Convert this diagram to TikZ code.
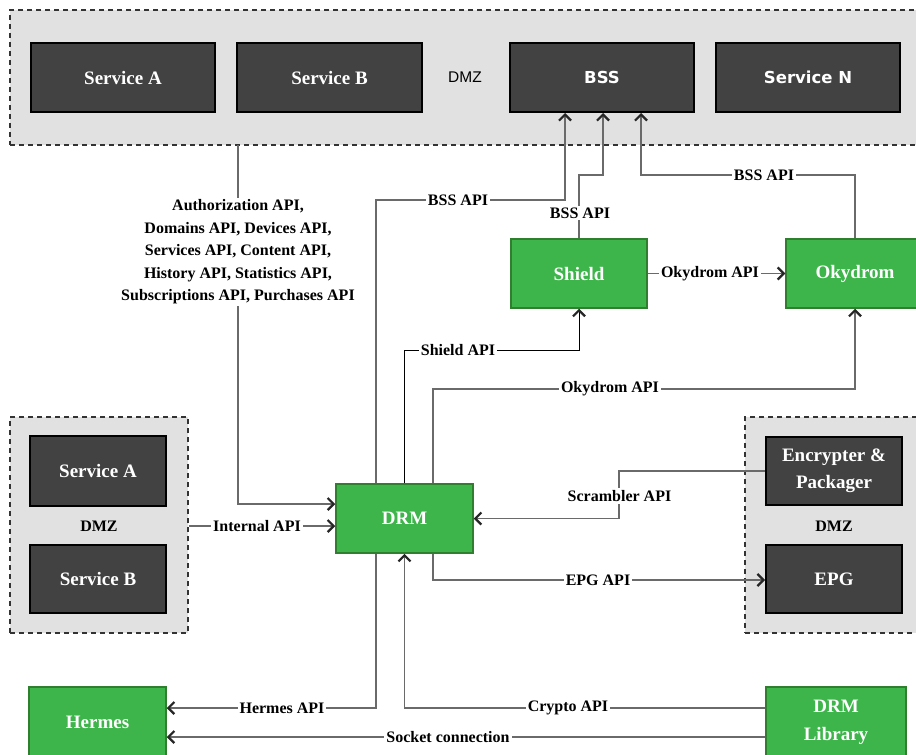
\documentclass[tikz,border=0pt]{standalone}
\usepackage{fontspec}
\setmainfont{Liberation Serif}
\newfontfamily\dvsans{DejaVu Sans}
\newfontfamily\lsans{Liberation Sans}
\usetikzlibrary{arrows.meta}
\definecolor{boxdark}{HTML}{424242}
\definecolor{contfill}{HTML}{E1E1E1}
\definecolor{grn}{HTML}{3DB54A}
\definecolor{grnb}{HTML}{2F7F2F}
\definecolor{wirec}{HTML}{6A6A6A}
\begin{document}
\begin{tikzpicture}[x=1pt,y=-1pt,
  container/.style={draw=black!80, fill=contfill, line width=1.8pt, dash pattern=on 5pt off 4pt, inner sep=0pt},
  darkbox/.style={draw=black, fill=boxdark, line width=2pt, text=white, font=\bfseries\fontsize{19}{27}\selectfont, align=center, inner sep=0pt},
  sansbox/.style={darkbox, font=\dvsans\bfseries\fontsize{16.5}{20}\selectfont},
  greenbox/.style={draw=grnb, fill=grn, line width=1.5pt, text=white, font=\bfseries\fontsize{19}{28}\selectfont, align=center, inner sep=0pt},
  lbl/.style={fill=white, inner sep=2pt, font=\bfseries\fontsize{16}{22.5}\selectfont, align=center},
  dmzlbl/.style={font=\bfseries\fontsize{16}{20}\selectfont},
  wire/.style={draw=wirec, line width=1.6pt},
  arr/.style={-{Straight Barb[length=6pt,width=12pt,line width=2.2pt,color=black!85]}},
]
\useasboundingbox (0,0) rectangle (916,755);
\clip (0,0) rectangle (916,755);
\fill[white] (0,0) rectangle (916,755);

% containers
\node[container, minimum width=920pt, minimum height=135pt] (contT) at (470,77.5) {};
\node[container, minimum width=178pt, minimum height=216pt] (contL) at (99,525) {};
\node[container, minimum width=185pt, minimum height=216pt] (contR) at (837.5,525) {};

% top boxes
\node[darkbox, minimum width=184pt, minimum height=69pt] (sA1) at (123,77.5) {Service A};
\node[darkbox, minimum width=185pt, minimum height=69pt] (sB1) at (329.5,77.5) {Service B};
\node[font=\lsans\fontsize{15.5}{18}\selectfont] (dmzT) at (465,77) {DMZ};
\node[sansbox, minimum width=184pt, minimum height=69pt] (bss) at (602,77.5) {BSS};
\node[sansbox, minimum width=184pt, minimum height=69pt] (sN) at (808,77.5) {Service N};

% green boxes
\node[greenbox, minimum width=136pt, minimum height=69pt] (shield) at (579,273.5) {Shield};
\node[greenbox, minimum width=138pt, minimum height=69pt] (oky) at (855,273.5) {Okydrom};
\node[greenbox, minimum width=137pt, minimum height=69pt] (drm) at (404.5,518.5) {DRM};
\node[greenbox, minimum width=137pt, minimum height=71pt] (hermes) at (97.5,722.5) {Hermes};
\node[greenbox, minimum width=140pt, minimum height=71pt] (lib) at (836,722.5) {DRM\\Library};

% left DMZ
\node[darkbox, minimum width=136pt, minimum height=70pt] (sA2) at (98,471) {Service A};
\node[dmzlbl] (dmzL) at (99,526) {DMZ};
\node[darkbox, minimum width=136pt, minimum height=68pt] (sB2) at (98,579) {Service B};

% right DMZ
\node[darkbox, minimum width=136pt, minimum height=68pt] (enc) at (834,471) {Encrypter \&\\Packager};
\node[dmzlbl] (dmzR) at (834,526) {DMZ};
\node[darkbox, minimum width=136pt, minimum height=68pt] (epg) at (834,579) {EPG};

% connectors
\coordinate (apiTop) at (238,145);
\draw[wire,arr] ([xshift=-28.5pt]drm.north) |- (565,200) -- ([xshift=-37pt]bss.south);
\draw[wire,arr] (shield.north) |- (603,175) -- ([xshift=1pt]bss.south);
\draw[wire,arr] (oky.north) |- (641,175) -- ([xshift=39pt]bss.south);
\draw[black, line width=1pt, arr] (drm.north) |- (579,350) -- (shield.south);
\draw[wire,arr] ([xshift=28.5pt]drm.north) |- (855,389) -- (oky.south);
\draw[wire,arr] (shield.east) -- (oky.west);
\draw[wire,arr] (apiTop) -- (238,504) -- ([yshift=14.5pt]drm.west);
\draw[wire,arr] ([yshift=-1pt]contL.east) -- ([yshift=-7.5pt]drm.west);
\draw[wire,arr] (enc.west) -| (619,518.5) -- (drm.east);
\draw[wire,arr] ([xshift=28.5pt]drm.south) |- ([yshift=-1pt]epg.west);
\draw[wire,arr] ([xshift=-28.5pt]drm.south) |- ([yshift=14.5pt]hermes.east);
\draw[wire,arr] ([yshift=14.5pt]lib.west) -| (drm.south);
\draw[wire,arr] ([yshift=-14.5pt]lib.west) -- ([yshift=-14.5pt]hermes.east);

% labels
\node[lbl] (l1) at (458,200) {BSS API};
\node[lbl] (l2) at (580,213) {BSS API};
\node[lbl] (l3) at (764,175) {BSS API};
\node[lbl] (l4) at (458,350) {Shield API};
\node[lbl] (l5) at (610,389) {Okydrom API};
\node[lbl] (l6) at (710,274) {Okydrom API};
\node[lbl] (l7) at (238,252) {Authorization API,\\Domains API, Devices API,\\Services API, Content API,\\History API, Statistics API,\\Subscriptions API, Purchases API};
\node[lbl] (l8) at (257,526) {Internal API};
\node[lbl] (l9) at (619.5,496) {Scrambler API};
\node[lbl] (l10) at (598,580) {EPG API};
\node[lbl] (l11) at (282,708) {Hermes API};
\node[lbl] (l12) at (568,708) {Crypto API};
\node[lbl] (l13) at (448,737) {Socket connection};
\end{tikzpicture}
\end{document}
